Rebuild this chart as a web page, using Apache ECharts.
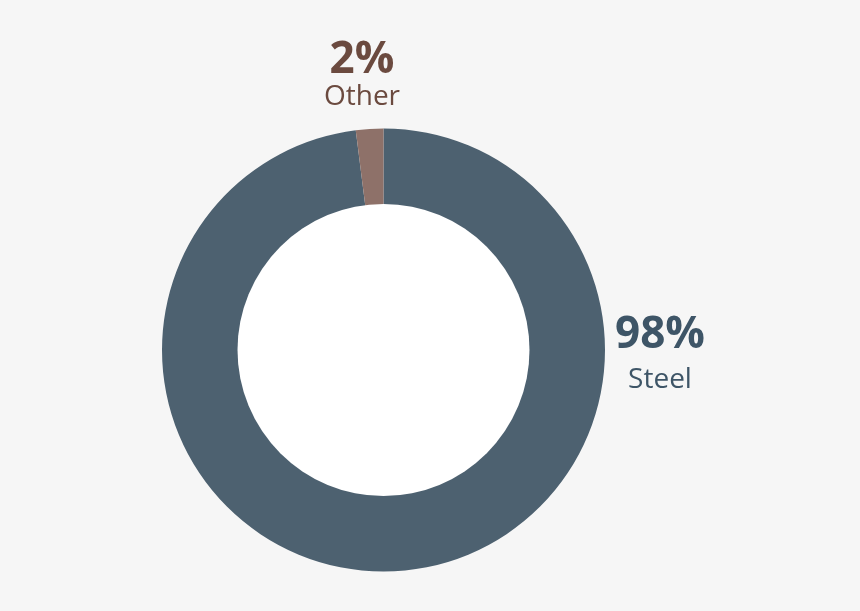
<!DOCTYPE html>
<html><head><meta charset="utf-8">
<script src="https://cdn.jsdelivr.net/npm/echarts@6/dist/echarts.min.js"></script>
<style>html,body{margin:0;padding:0;background:#f6f6f6}#c{width:860px;height:611px}</style>
</head><body><div id="c"></div>
<script>
const categories = ['Steel', 'Other'];
const values = [98, 2];
const colors = ['#4d6170', '#8e7169'];
const labelColors = ['#3e5567', '#6b4a3f'];
const font = "'Liberation Sans Narrow','Open Sans',sans-serif";
const labelPos = [[660, 335, 380], [362, 60, 97]];
const chart = echarts.init(document.getElementById('c'));
const graphics = [{type:'circle', shape:{cx:383.5, cy:350, r:146}, style:{fill:'#ffffff'}, z:10}];
categories.forEach((c, i) => {
  graphics.push({type:'text', x:labelPos[i][0], y:labelPos[i][1], style:{text:values[i]+'%', fill:labelColors[i], font:'bold 44px '+font, textAlign:'center', textVerticalAlign:'middle'}});
  graphics.push({type:'text', x:labelPos[i][0], y:labelPos[i][2], style:{text:c, fill:labelColors[i], font:'28px '+font, textAlign:'center', textVerticalAlign:'middle'}});
});
chart.setOption({
  backgroundColor:'#f6f6f6',
  animation:false,
  series:[{type:'pie', center:[383.5,350], radius:[0,221.5], startAngle:90, clockwise:true,
    label:{show:false}, labelLine:{show:false}, silent:true,
    data:categories.map((c,i)=>({name:c, value:values[i], itemStyle:{color:colors[i]}}))}],
  graphic:graphics
});
</script></body></html>
